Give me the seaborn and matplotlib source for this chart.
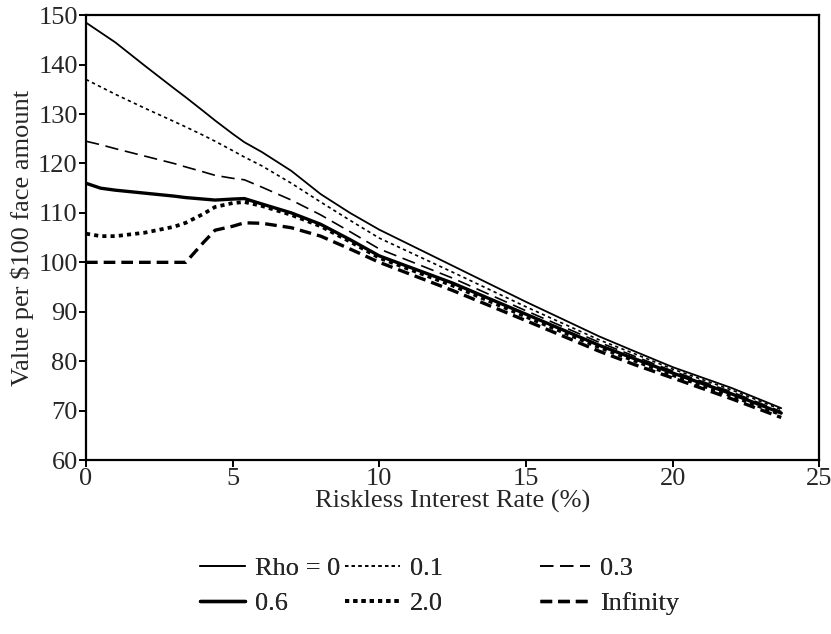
"Value of a $100 face bond vs riskless rate for several rho values."
import matplotlib
matplotlib.use("Agg")
import matplotlib.pyplot as plt
import seaborn as sns
import pandas as pd

rate = [0, 0.5, 1, 2, 3, 3.4, 4, 4.4, 5, 5.4, 6, 7, 8, 9, 10, 12.5, 15, 17.5, 18.7, 20, 22, 23.7]

rho_0 = [148.5, 146.5, 144.5, 139.8, 135.2, 133.4, 130.6, 128.7, 126.0, 124.3, 122.3, 118.5,
         113.8, 110.0, 106.6, 99.3, 92.0, 85.0, 82.0, 78.8, 74.6, 70.5]
rho_01 = [137.0, 135.5, 134.0, 131.2, 128.5, 127.4, 125.7, 124.5, 122.6, 121.3, 119.5, 116.0,
          112.2, 108.5, 104.9, 98.0, 91.0, 84.3, 81.5, 78.4, 74.2, 70.2]
rho_03 = [124.5, 123.8, 123.0, 121.5, 120.0, 119.3, 118.3, 117.6, 117.0, 116.7, 115.2, 112.6,
          109.6, 106.2, 102.7, 96.8, 90.2, 83.8, 81.0, 78.0, 73.8, 69.8]
rho_06 = [116.0, 115.0, 114.6, 114.0, 113.4, 113.1, 112.8, 112.6, 112.8, 112.9, 111.8, 110.0,
          107.7, 104.6, 101.3, 95.8, 89.5, 83.2, 80.5, 77.6, 73.4, 69.5]
rho_2 = [105.8, 105.3, 105.3, 106.0, 107.2, 108.0, 109.8, 111.2, 112.0, 112.2, 111.4, 109.6,
         107.3, 104.2, 100.9, 95.3, 89.0, 82.8, 80.1, 77.2, 73.0, 69.2]
rho_inf = [100.0, 100.0, 100.0, 100.0, 100.0, 100.0, 104.0, 106.5, 107.3, 108.0, 107.9, 107.0,
           105.3, 102.7, 100.0, 94.3, 88.2, 82.0, 79.3, 76.6, 72.4, 68.6]

series = {
    "Rho = 0": (rho_0, "-", 1.3),
    "0.1": (rho_01, (0, (2, 2)), 1.2),
    "0.3": (rho_03, (0, (8, 4)), 1.2),
    "0.6": (rho_06, "-", 2.4),
    "2.0": (rho_2, (0, (1.1, 1.1)), 2.7),
    "Infinity": (rho_inf, (0, (3.5, 1.8)), 2.4),
}

sns.set_theme(style="ticks")
plt.rcParams["font.family"] = ["Liberation Serif", "DejaVu Serif"]
FS = 19

fig = plt.figure(figsize=(8.31, 6.34), dpi=100)
ax = fig.add_axes([0.1035, 0.2744, 0.8825, 0.7016])

for name, (vals, ls, lw) in series.items():
    df = pd.DataFrame({"rate": rate, "value": vals})
    sns.lineplot(data=df, x="rate", y="value", ax=ax, color="black",
                 linestyle=ls, linewidth=lw, label=name)

ax.set_xlim(0, 25)
ax.set_ylim(60, 150)
ax.set_xticks(range(0, 26, 5))
ax.set_yticks(range(60, 151, 10))
ax.tick_params(labelsize=FS, length=5, width=1.4, color="black", pad=1)
for s in ax.spines.values():
    s.set_linewidth(1.6)
    s.set_color("black")
ax.set_xlabel("Riskless Interest Rate (%)", fontsize=FS, labelpad=0)
ax.set_ylabel(r"Value per \$100 face amount", fontsize=FS, labelpad=3)

handles, labels = ax.get_legend_handles_labels()
ax.get_legend().remove()
cols = [(0, 3, 0.241, 1.7), (1, 4, 0.415, 2.1), (2, 5, 0.650, 1.9)]
for i, j, xpos, hl in cols:
    leg = fig.legend([handles[i], handles[j]], [labels[i], labels[j]],
                     loc="upper left", bbox_to_anchor=(xpos, 0.122), frameon=False,
                     fontsize=FS, handlelength=hl, handletextpad=0.38,
                     labelspacing=0.45, borderpad=0, borderaxespad=0)
    fig.add_artist(leg)

fig.savefig("out.png", dpi=100)
